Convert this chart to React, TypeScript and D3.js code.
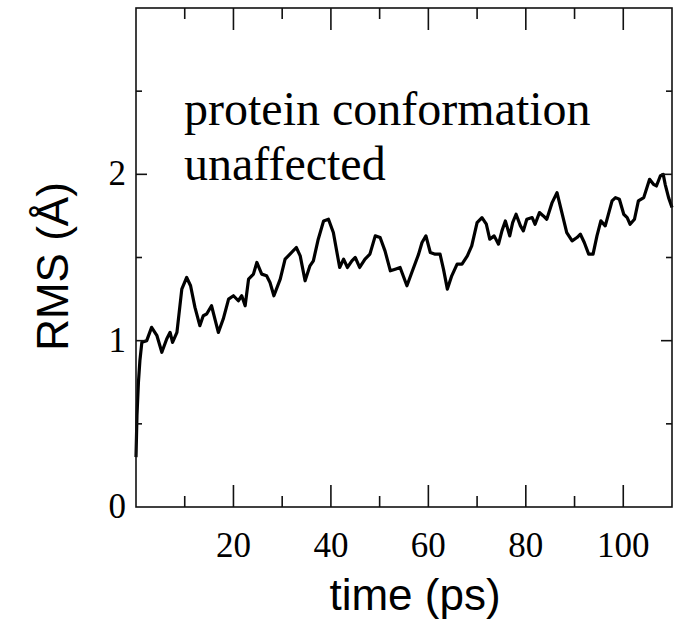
import * as d3 from "d3";
import { useEffect, useRef } from "react";

// time (ps) and RMS (Å)
const time = [
  0, 0.2, 0.5, 0.8, 1.2, 2.2, 3.2, 4.3, 5.3, 6.3, 7.0,
  7.5, 8.4, 9.4, 10.4, 11.2, 12.1, 13.1, 13.8, 14.5, 15.5,
  16.2, 16.9, 17.9, 19.0, 20.0, 21.0, 21.7, 22.4, 23.1, 24.1,
  24.8, 25.8, 26.8, 27.5, 28.3, 29.6, 30.6, 31.6, 32.9, 33.7,
  34.7, 35.7, 36.4, 37.4, 38.5, 39.5, 40.5, 41.8, 42.6, 43.4,
  44.3, 45.0, 45.9, 47.0, 48.0, 49.1, 50.1, 51.1, 52.2, 53.2,
  54.2, 55.6, 56.6, 58.0, 58.7, 59.5, 60.4, 61.4, 62.4, 63.1,
  63.9, 64.8, 65.9, 66.9, 68.0, 68.9, 70.0, 71.0, 71.9, 72.6,
  73.5, 74.4, 75.1, 75.8, 76.7, 77.3, 78.0, 78.9, 79.5, 80.2,
  81.3, 81.9, 82.8, 83.6, 84.3, 85.4, 86.4, 87.4, 88.4, 89.5,
  90.5, 91.2, 92.0, 92.9, 93.8, 94.6, 95.4, 96.3, 97.7, 98.4,
  99.2, 100.1, 100.8, 101.4, 102.3, 103.1, 104.2, 105.4, 106.2, 106.8,
  107.6, 108.2, 108.6, 109.3, 110
];

const rms = [
  0.3, 0.55, 0.75, 0.88, 0.99, 1.0, 1.08, 1.03, 0.93, 1.01, 1.05,
  0.99, 1.05, 1.31, 1.38, 1.33, 1.2, 1.09, 1.15, 1.16, 1.21,
  1.13, 1.05, 1.13, 1.25, 1.27, 1.24, 1.27, 1.21, 1.37, 1.4,
  1.47, 1.4, 1.39, 1.35, 1.27, 1.37, 1.49, 1.52, 1.56, 1.51,
  1.36, 1.45, 1.48, 1.61, 1.72, 1.73, 1.65, 1.44, 1.49, 1.44,
  1.48, 1.5, 1.44, 1.49, 1.52, 1.63, 1.62, 1.54, 1.42, 1.43,
  1.44, 1.33, 1.41, 1.52, 1.59, 1.63, 1.53, 1.52, 1.52, 1.43,
  1.31, 1.39, 1.46, 1.46, 1.51, 1.57, 1.71, 1.74, 1.7, 1.61,
  1.63, 1.58, 1.66, 1.72, 1.63, 1.71, 1.76, 1.69, 1.66, 1.73,
  1.74, 1.7, 1.77, 1.75, 1.73, 1.83, 1.89, 1.77, 1.65, 1.6,
  1.62, 1.64, 1.59, 1.52, 1.52, 1.63, 1.72, 1.69, 1.84, 1.86,
  1.85, 1.76, 1.74, 1.7, 1.73, 1.84, 1.86, 1.97, 1.94, 1.93,
  1.99, 2.0, 1.94, 1.86, 1.8
];

const xMajor = [20, 40, 60, 80, 100];
const xMinor = [10, 30, 50, 70, 90];
const yMajor = [0, 1, 2];
const yMinor = [0.5, 1.5, 2.5];
const note = ["protein conformation", "unaffected"];

const W = 679;
const H = 619;

const App = () => {
  const ref = useRef(null);

  useEffect(() => {
    const svg = d3.select(ref.current);
    svg.selectAll("*").remove();

    const margin = { top: 8, right: 7, bottom: 112, left: 136 };
    const x = d3.scaleLinear().domain([0, 110]).range([margin.left, W - margin.right]);
    const y = d3.scaleLinear().domain([0, 3]).range([H - margin.bottom, margin.top]);
    const [x0, x1] = x.range();
    const [y0, y1] = y.range();

    const serif = "'Liberation Serif', 'Times New Roman', serif";
    const sans = "'Liberation Sans', Arial, sans-serif";

    // trace
    const line = d3.line<number>()
      .x((d, i) => x(time[i]))
      .y(d => y(d));

    svg.append("path")
      .datum(rms)
      .attr("d", line)
      .attr("fill", "none")
      .attr("stroke", "#000")
      .attr("stroke-width", 3.2)
      .attr("stroke-linejoin", "round");

    // frame
    svg.append("rect")
      .attr("x", x0)
      .attr("y", y1)
      .attr("width", x1 - x0)
      .attr("height", y0 - y1)
      .attr("fill", "none")
      .attr("stroke", "#111")
      .attr("stroke-width", 1.6);

    const ticks = svg.append("g").attr("stroke", "#111").attr("stroke-width", 1.6);

    const xTick = (v, len) => {
      ticks.append("line").attr("x1", x(v)).attr("x2", x(v)).attr("y1", y0).attr("y2", y0 - len);
      ticks.append("line").attr("x1", x(v)).attr("x2", x(v)).attr("y1", y1).attr("y2", y1 + len);
    };
    xMajor.forEach(v => xTick(v, 22));
    xMinor.forEach(v => xTick(v, 11));

    const yTick = (v, len) => {
      ticks.append("line").attr("x1", x0).attr("x2", x0 + len).attr("y1", y(v)).attr("y2", y(v));
      ticks.append("line").attr("x1", x1).attr("x2", x1 - len).attr("y1", y(v)).attr("y2", y(v));
    };
    yMajor.filter(v => v > 0).forEach(v => yTick(v, 11));
    yMinor.forEach(v => yTick(v, 6));

    // tick labels
    svg.append("g")
      .selectAll("text")
      .data(xMajor)
      .join("text")
      .attr("x", d => x(d))
      .attr("y", y0 + 50)
      .attr("text-anchor", "middle")
      .style("font-family", serif)
      .style("font-size", "35px")
      .text(d => d);

    svg.append("g")
      .selectAll("text")
      .data(yMajor)
      .join("text")
      .attr("x", x0 - 10)
      .attr("y", d => y(d) + 11)
      .attr("text-anchor", "end")
      .style("font-family", serif)
      .style("font-size", "35px")
      .text(d => d);

    // axis titles
    svg.append("text")
      .attr("x", 415)
      .attr("y", 610)
      .attr("text-anchor", "middle")
      .style("font-family", sans)
      .style("font-size", "44px")
      .text("time (ps)");

    svg.append("text")
      .attr("transform", `translate(68, ${(y0 + y1) / 2 + 9}) rotate(-90)`)
      .attr("text-anchor", "middle")
      .style("font-family", sans)
      .style("font-size", "44px")
      .text("RMS (Å)");

    // annotation
    svg.append("g")
      .selectAll("text")
      .data(note)
      .join("text")
      .attr("x", 184)
      .attr("y", (d, i) => 125 + i * 55)
      .style("font-family", serif)
      .style("font-size", "48px")
      .text(d => d);
  }, []);

  return (
    <svg
      ref={ref}
      width={W}
      height={H}
      style={{ position: "absolute", left: 0, top: 0, background: "#fff" }}
    ></svg>
  );
};

export default App;
